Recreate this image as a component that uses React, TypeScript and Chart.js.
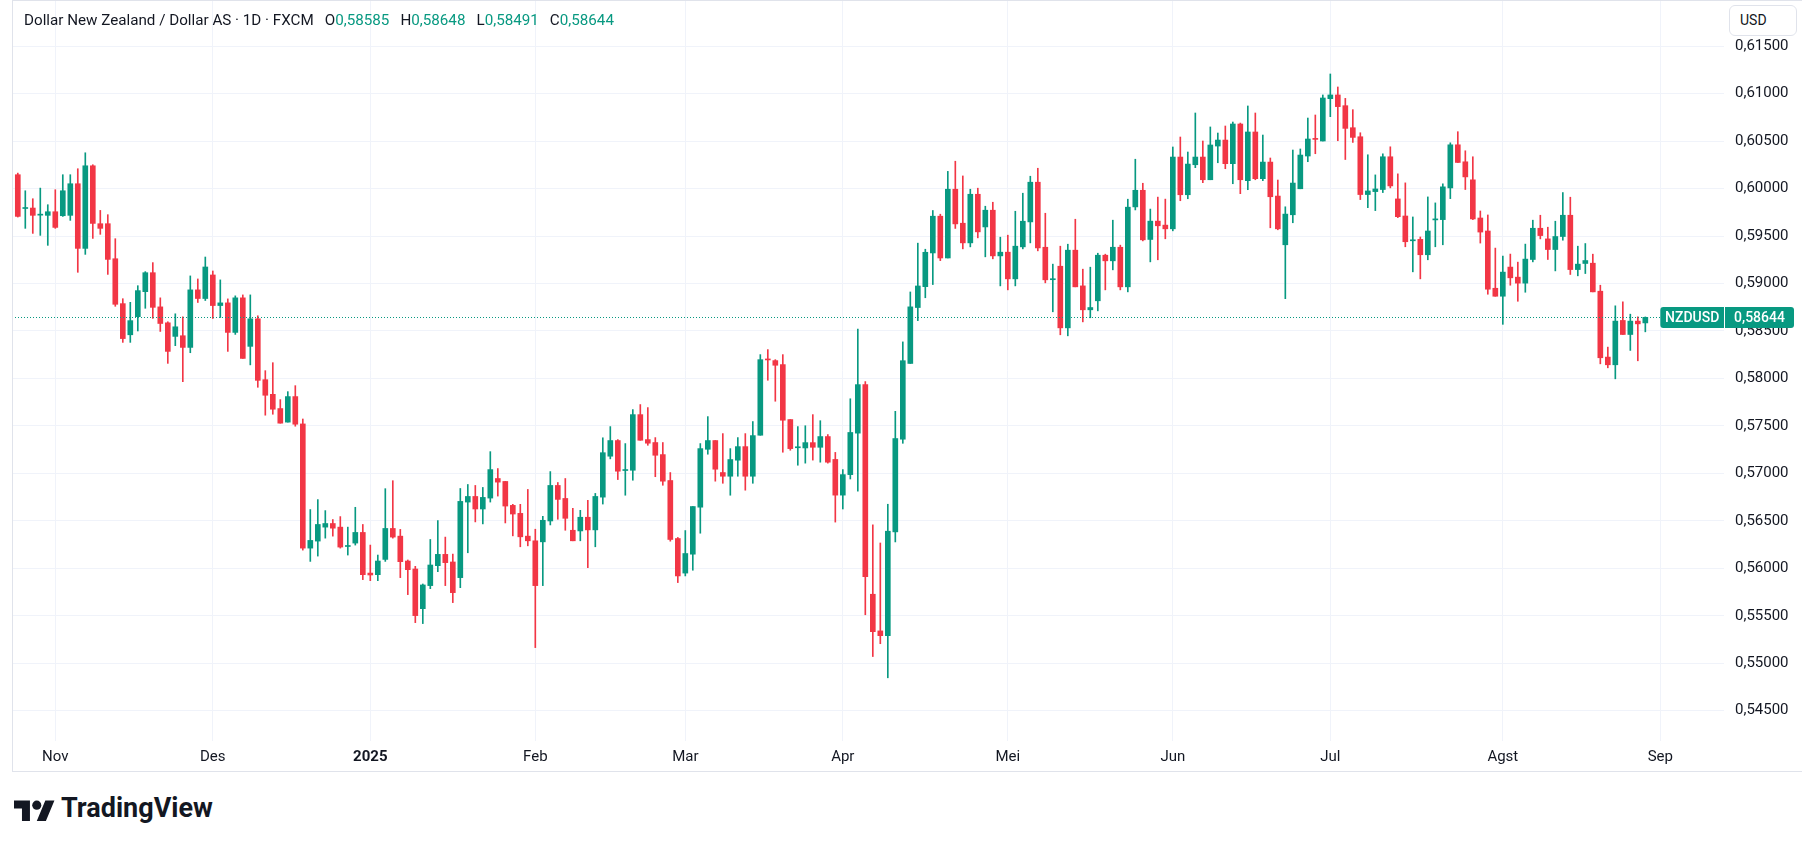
import React, { useEffect, useRef } from 'react';
import { Chart, registerables } from 'chart.js';

Chart.register(...registerables);

// ---- Data (daily candles, NZD/USD FXCM, Oct 25 2024 .. Aug 28 2025) ----
const opens: number[] = [
  0.60146, 0.59790, 0.59795, 0.59720, 0.59718, 0.59756, 0.59714, 0.59718, 0.60051, 0.59370,
  0.60240, 0.59630, 0.59630, 0.59261, 0.58788, 0.58460, 0.58651, 0.58914, 0.59114, 0.58754,
  0.58586, 0.58443, 0.58450, 0.58327, 0.58933, 0.58842, 0.59090, 0.58768, 0.58796, 0.58485,
  0.58849, 0.58338, 0.58628, 0.57987, 0.57833, 0.57683, 0.57540, 0.57809, 0.57521, 0.56213,
  0.56287, 0.56434, 0.56472, 0.56434, 0.56230, 0.56266, 0.56378, 0.55950, 0.55933, 0.56094,
  0.56420, 0.56339, 0.56077, 0.55993, 0.55575, 0.55818, 0.56028, 0.56147, 0.56067, 0.55902,
  0.56698, 0.56757, 0.56625, 0.56740, 0.56946, 0.56915, 0.56663, 0.56579, 0.56339, 0.56290,
  0.56279, 0.56499, 0.56873, 0.56736, 0.56401, 0.56394, 0.56538, 0.56405, 0.56750, 0.57181,
  0.57346, 0.57030, 0.57033, 0.57619, 0.57356, 0.57325, 0.57198, 0.56925, 0.56314, 0.55950,
  0.56149, 0.56644, 0.57254, 0.57346, 0.57009, 0.56970, 0.57139, 0.57282, 0.56970, 0.57402,
  0.58198, 0.58188, 0.58146, 0.57567, 0.57270, 0.57268, 0.57324, 0.57275, 0.57388, 0.57147,
  0.56771, 0.56987, 0.57424, 0.57935, 0.55727, 0.55341, 0.55291, 0.56384, 0.57360, 0.58158,
  0.58747, 0.58967, 0.59322, 0.59709, 0.59269, 0.59993, 0.59635, 0.59428, 0.59940, 0.59596,
  0.59772, 0.59291, 0.59330, 0.59049, 0.59386, 0.59649, 0.60067, 0.59382, 0.59040, 0.59182,
  0.58533, 0.59351, 0.58975, 0.58723, 0.58818, 0.59298, 0.59239, 0.59382, 0.58965, 0.59807,
  0.59982, 0.59464, 0.59657, 0.59615, 0.59576, 0.60332, 0.59935, 0.60251, 0.60332, 0.60093,
  0.60448, 0.60511, 0.60262, 0.60680, 0.60083, 0.60596, 0.60104, 0.60279, 0.59921, 0.59408,
  0.59724, 0.59998, 0.60343, 0.60522, 0.60501, 0.60947, 0.60986, 0.60873, 0.60641, 0.60546,
  0.59937, 0.59968, 0.59990, 0.60335, 0.59891, 0.59711, 0.59450, 0.59465, 0.59303, 0.59670,
  0.59673, 0.60007, 0.60461, 0.60282, 0.60092, 0.59690, 0.59553, 0.58950, 0.58866, 0.59173,
  0.59067, 0.59004, 0.59253, 0.59582, 0.59470, 0.59358, 0.59495, 0.59719, 0.59147, 0.59211,
  0.59214, 0.58919, 0.58225, 0.58144, 0.58611, 0.58463, 0.58604, 0.58585,
];
const highs: number[] = [
  0.60163, 0.59977, 0.59893, 0.60005, 0.59830, 0.59988, 0.60146, 0.60146, 0.60209, 0.60377,
  0.60251, 0.59770, 0.59725, 0.59472, 0.58840, 0.58802, 0.58977, 0.59125, 0.59220, 0.58849,
  0.58597, 0.58681, 0.58649, 0.59080, 0.59048, 0.59279, 0.59132, 0.59038, 0.58838, 0.58870,
  0.58880, 0.58880, 0.58660, 0.58082, 0.58166, 0.57777, 0.57861, 0.57924, 0.57573, 0.56619,
  0.56724, 0.56608, 0.56514, 0.56545, 0.56434, 0.56643, 0.56462, 0.56245, 0.56140, 0.56839,
  0.56923, 0.56410, 0.56088, 0.56021, 0.55835, 0.56304, 0.56503, 0.56329, 0.56150, 0.56841,
  0.56883, 0.56873, 0.56852, 0.57229, 0.57051, 0.56915, 0.56674, 0.56674, 0.56831, 0.56412,
  0.56548, 0.57019, 0.56904, 0.56946, 0.56632, 0.56611, 0.56716, 0.56789, 0.57375, 0.57493,
  0.57356, 0.57314, 0.57672, 0.57725, 0.57693, 0.57377, 0.57325, 0.57009, 0.56325, 0.56398,
  0.56651, 0.57314, 0.57598, 0.57346, 0.57419, 0.57261, 0.57377, 0.57419, 0.57546, 0.58251,
  0.58304, 0.58198, 0.58251, 0.57567, 0.57493, 0.57502, 0.57619, 0.57555, 0.57409, 0.57221,
  0.57040, 0.57786, 0.58520, 0.57967, 0.56458, 0.56267, 0.56675, 0.57654, 0.58385, 0.58911,
  0.59425, 0.59361, 0.59769, 0.59730, 0.60181, 0.60288, 0.60133, 0.59993, 0.60004, 0.59814,
  0.59856, 0.59488, 0.59509, 0.59761, 0.59951, 0.60130, 0.60214, 0.59740, 0.59204, 0.59393,
  0.59414, 0.59677, 0.59151, 0.59172, 0.59319, 0.59309, 0.59667, 0.59404, 0.59888, 0.60309,
  0.60056, 0.59784, 0.59910, 0.59889, 0.60438, 0.60543, 0.60385, 0.60796, 0.60501, 0.60649,
  0.60585, 0.60659, 0.60701, 0.60690, 0.60870, 0.60796, 0.60564, 0.60322, 0.60090, 0.59808,
  0.60406, 0.60417, 0.60743, 0.60775, 0.60986, 0.61207, 0.61070, 0.60950, 0.60831, 0.60588,
  0.60356, 0.60144, 0.60366, 0.60440, 0.60155, 0.60060, 0.59701, 0.59490, 0.59912, 0.59849,
  0.60050, 0.60482, 0.60599, 0.60398, 0.60335, 0.59764, 0.59722, 0.59373, 0.59289, 0.59310,
  0.59225, 0.59415, 0.59667, 0.59719, 0.59593, 0.59656, 0.59958, 0.59909, 0.59393, 0.59421,
  0.59309, 0.58982, 0.58330, 0.58765, 0.58807, 0.58677, 0.58649, 0.58648,
];
const lows: number[] = [
  0.59700, 0.59581, 0.59528, 0.59507, 0.59402, 0.59581, 0.59707, 0.59665, 0.59118, 0.59307,
  0.59475, 0.59518, 0.59096, 0.58760, 0.58380, 0.58380, 0.58500, 0.58739, 0.58633, 0.58495,
  0.58159, 0.58345, 0.57966, 0.58271, 0.58800, 0.58821, 0.58632, 0.58642, 0.58285, 0.58464,
  0.58211, 0.58143, 0.57907, 0.57613, 0.57623, 0.57529, 0.57540, 0.57497, 0.56192, 0.56073,
  0.56129, 0.56318, 0.56339, 0.56213, 0.56140, 0.56245, 0.55881, 0.55870, 0.55870, 0.56073,
  0.56318, 0.55902, 0.55723, 0.55428, 0.55418, 0.55786, 0.55965, 0.55818, 0.55639, 0.55796,
  0.56164, 0.56489, 0.56468, 0.56698, 0.56761, 0.56478, 0.56342, 0.56227, 0.56237, 0.55165,
  0.55818, 0.56457, 0.56517, 0.56401, 0.56290, 0.56290, 0.56007, 0.56227, 0.56677, 0.57153,
  0.56935, 0.56770, 0.56928, 0.57349, 0.57296, 0.56965, 0.56875, 0.56286, 0.55850, 0.55920,
  0.55980, 0.56370, 0.57202, 0.56918, 0.56896, 0.56770, 0.56970, 0.56823, 0.56896, 0.57402,
  0.57981, 0.57760, 0.57223, 0.57244, 0.57086, 0.57108, 0.57140, 0.57118, 0.57108, 0.56487,
  0.56625, 0.56941, 0.56813, 0.55511, 0.55071, 0.55206, 0.54847, 0.56278, 0.57317, 0.58158,
  0.58609, 0.58850, 0.58989, 0.59241, 0.59269, 0.59580, 0.59365, 0.59386, 0.59481, 0.59281,
  0.59260, 0.58975, 0.58933, 0.58975, 0.59365, 0.59428, 0.59344, 0.59007, 0.58702, 0.58460,
  0.58449, 0.58965, 0.58596, 0.58639, 0.58712, 0.58933, 0.59144, 0.58933, 0.58912, 0.59775,
  0.59449, 0.59228, 0.59250, 0.59471, 0.59555, 0.59872, 0.59893, 0.60220, 0.60062, 0.60093,
  0.60272, 0.60209, 0.60051, 0.59946, 0.59988, 0.60093, 0.60083, 0.59587, 0.59566, 0.58840,
  0.59640, 0.59998, 0.60283, 0.60367, 0.60501, 0.60757, 0.60504, 0.60306, 0.60486, 0.59884,
  0.59799, 0.59768, 0.59958, 0.60007, 0.59694, 0.59387, 0.59123, 0.59049, 0.59250, 0.59387,
  0.59408, 0.59894, 0.60275, 0.59990, 0.59673, 0.59426, 0.58887, 0.58866, 0.58570, 0.58982,
  0.58813, 0.58908, 0.59228, 0.59470, 0.59253, 0.59133, 0.59456, 0.59095, 0.59081, 0.59105,
  0.58912, 0.58154, 0.58112, 0.57996, 0.58463, 0.58295, 0.58186, 0.58491,
];
const closes: number[] = [
  0.59707, 0.59800, 0.59718, 0.59730, 0.59756, 0.59591, 0.59977, 0.60051, 0.59370, 0.60240,
  0.59633, 0.59581, 0.59254, 0.58781, 0.58420, 0.58609, 0.58925, 0.59114, 0.58749, 0.58579,
  0.58285, 0.58544, 0.58327, 0.58933, 0.58842, 0.59174, 0.58768, 0.58796, 0.58485, 0.58849,
  0.58211, 0.58628, 0.57980, 0.57823, 0.57676, 0.57529, 0.57809, 0.57518, 0.56213, 0.56294,
  0.56462, 0.56472, 0.56423, 0.56224, 0.56240, 0.56378, 0.55933, 0.55930, 0.56077, 0.56420,
  0.56329, 0.56070, 0.55986, 0.55502, 0.55825, 0.56035, 0.56147, 0.56060, 0.55744, 0.56705,
  0.56757, 0.56625, 0.56747, 0.57040, 0.56908, 0.56656, 0.56572, 0.56332, 0.56290, 0.55818,
  0.56506, 0.56873, 0.56726, 0.56527, 0.56290, 0.56538, 0.56405, 0.56757, 0.57218, 0.57346,
  0.57023, 0.57040, 0.57619, 0.57349, 0.57318, 0.57191, 0.56918, 0.56304, 0.55920, 0.56156,
  0.56651, 0.57261, 0.57346, 0.57044, 0.56970, 0.57146, 0.57282, 0.56970, 0.57398, 0.58198,
  0.58195, 0.58139, 0.57560, 0.57261, 0.57280, 0.57324, 0.57275, 0.57388, 0.57118, 0.56771,
  0.56987, 0.57431, 0.57935, 0.55912, 0.55333, 0.55291, 0.56391, 0.57367, 0.58187, 0.58754,
  0.58974, 0.59329, 0.59709, 0.59269, 0.59993, 0.59628, 0.59428, 0.59940, 0.59544, 0.59772,
  0.59291, 0.59330, 0.59049, 0.59393, 0.59656, 0.60067, 0.59375, 0.59039, 0.59050, 0.58533,
  0.59351, 0.58965, 0.58723, 0.58747, 0.59298, 0.59239, 0.59382, 0.58965, 0.59804, 0.59982,
  0.59460, 0.59657, 0.59608, 0.59576, 0.60332, 0.59935, 0.60258, 0.60332, 0.60093, 0.60459,
  0.60511, 0.60262, 0.60680, 0.60093, 0.60596, 0.60104, 0.60279, 0.59914, 0.59576, 0.59731,
  0.60058, 0.60353, 0.60522, 0.60518, 0.60954, 0.60986, 0.60863, 0.60634, 0.60539, 0.59937,
  0.59975, 0.59996, 0.60335, 0.60028, 0.59704, 0.59440, 0.59458, 0.59303, 0.59553, 0.59680,
  0.60018, 0.60461, 0.60275, 0.60123, 0.59680, 0.59542, 0.58940, 0.58866, 0.59120, 0.59060,
  0.59004, 0.59257, 0.59582, 0.59505, 0.59358, 0.59495, 0.59719, 0.59147, 0.59204, 0.59242,
  0.58912, 0.58218, 0.58144, 0.58604, 0.58463, 0.58604, 0.58575, 0.58644,
];

// Time axis: bar index of the first trading day of each month
const monthTickIdx: number[] = [5, 26, 47, 69, 89, 110, 132, 154, 175, 198, 219];
const monthTickLabels: string[] = ['Nov', 'Des', '2025', 'Feb', 'Mar', 'Apr', 'Mei', 'Jun', 'Jul', 'Agst', 'Sep'];
// Price axis ticks
const priceTicks: number[] = [0.545, 0.55, 0.555, 0.56, 0.565, 0.57, 0.575, 0.58, 0.585, 0.59, 0.595, 0.6, 0.605, 0.61, 0.615];

const symbolName = 'NZDUSD';
const titleText = 'Dollar New Zealand / Dollar AS · 1D · FXCM';
const legendO = '0,58585';
const legendH = '0,58648';
const legendL = '0,58491';
const legendC = '0,58644';

const UP = '#089981';
const DOWN = '#f23645';
const TEXT = '#131722';
const GRID = '#f0f3fa';
const FONT = 'Roboto, "Noto Sans", sans-serif';

const fmt = (v: number) => v.toFixed(5).replace('.', ',');

export default function App() {
  const canvasRef = useRef<HTMLCanvasElement | null>(null);

  useEffect(() => {
    const canvas = canvasRef.current;
    if (!canvas) return;
    const colors = opens.map((o, i) => (closes[i] >= o ? UP : DOWN));
    const last = closes.length - 1;

    const lastPricePlugin = {
      id: 'lastPrice',
      afterDraw(chart: any) {
        const { ctx, chartArea, scales } = chart;
        const y = scales.y.getPixelForValue(closes[last]);
        const yy = Math.round(y) + 0.5;
        const labelLeft = scales.x.getPixelForValue(monthTickIdx[monthTickIdx.length - 1]);
        ctx.save();
        ctx.strokeStyle = UP;
        ctx.lineWidth = 1;
        ctx.setLineDash([1, 2]);
        ctx.beginPath();
        ctx.moveTo(chartArea.left, yy);
        ctx.lineTo(labelLeft, yy);
        ctx.stroke();
        ctx.setLineDash([]);
        const h = 21;
        const top = Math.round(y - h / 2);
        ctx.fillStyle = UP;
        ctx.beginPath();
        (ctx as any).roundRect(labelLeft, top, chartArea.right - labelLeft, h, [3, 0, 0, 3]);
        ctx.fill();
        ctx.beginPath();
        (ctx as any).roundRect(chartArea.right + 1, top, 69, h, [0, 3, 3, 0]);
        ctx.fill();
        ctx.fillStyle = '#ffffff';
        ctx.font = `500 14px ${FONT}`;
        ctx.textBaseline = 'middle';
        ctx.textAlign = 'center';
        ctx.fillText(symbolName, (labelLeft + chartArea.right) / 2, top + h / 2 + 0.5);
        ctx.fillText(fmt(closes[last]), chartArea.right + 1 + 34.5, top + h / 2 + 0.5);
        ctx.restore();
      },
    };

    const chart = new Chart(canvas, {
      type: 'bar',
      data: {
        datasets: [
          {
            label: 'wick',
            data: lows.map((l, i) => ({ x: i, y: [l, highs[i]] })) as any,
            backgroundColor: colors,
            barThickness: 1,
            grouped: false,
            order: 2,
          } as any,
          {
            label: 'body',
            data: opens.map((o, i) => ({ x: i, y: [o, closes[i]] })) as any,
            backgroundColor: colors,
            barThickness: 5,
            minBarLength: 1,
            grouped: false,
            order: 1,
          } as any,
        ],
      },
      options: {
        responsive: false,
        animation: false,
        events: [],
        layout: { padding: { left: 12, top: 0, right: 0, bottom: 0 }, autoPadding: false } as any,
        plugins: { legend: { display: false }, tooltip: { enabled: false } },
        scales: {
          x: {
            type: 'linear',
            min: -0.773,
            max: 227.49,
            offset: false,
            grid: { color: GRID, drawTicks: false, lineWidth: 1, offset: false },
            border: { display: false },
            afterBuildTicks: (scale: any) => {
              scale.ticks = monthTickIdx.map((v) => ({ value: v }));
            },
            afterFit: (scale: any) => {
              scale.height = 31;
              scale.paddingLeft = 0;
              scale.paddingRight = 0;
            },
            ticks: {
              autoSkip: false,
              maxRotation: 0,
              padding: 7,
              color: TEXT,
              font: (ctx: any) => ({
                family: FONT,
                size: 15,
                weight: ctx.tick && ctx.tick.label === '2025' ? 'bold' : 'normal',
              }),
              callback: (value: any) => {
                const k = monthTickIdx.indexOf(Number(value));
                return k >= 0 ? monthTickLabels[k] : '';
              },
            },
          },
          y: {
            type: 'linear',
            position: 'right',
            min: 0.541813,
            max: 0.619862,
            grid: { color: GRID, drawTicks: false, lineWidth: 1 },
            border: { display: false },
            afterBuildTicks: (scale: any) => {
              scale.ticks = priceTicks.map((v) => ({ value: v }));
            },
            afterFit: (scale: any) => {
              scale.width = 78;
              scale.paddingTop = 0;
              scale.paddingBottom = 0;
            },
            ticks: {
              padding: 11,
              color: TEXT,
              font: { family: FONT, size: 15 },
              callback: (value: any) => fmt(Number(value)),
            },
          },
        },
      } as any,
      plugins: [lastPricePlugin],
    });
    return () => chart.destroy();
  }, []);

  const legendVal: React.CSSProperties = { color: UP };
  const grp: React.CSSProperties = { marginLeft: 11 };

  return (
    <div style={{ position: 'fixed', left: 0, top: 0, width: 1802, height: 848, background: '#ffffff', overflow: 'hidden', fontFamily: FONT }}>
      <canvas ref={canvasRef} width={1802} height={772} style={{ position: 'absolute', left: 0, top: 0, width: 1802, height: 772 }} />
      <div style={{ position: 'absolute', left: 12, top: 0, width: 1790, height: 772, border: '1px solid #e0e3eb', borderRight: 'none', boxSizing: 'border-box', pointerEvents: 'none' }} />
      <div style={{ position: 'absolute', left: 24, top: 10, height: 20, lineHeight: '20px', fontSize: 15.2, color: TEXT, whiteSpace: 'nowrap' }}>
        <span>{titleText}</span>
        <span style={grp}>O<span style={legendVal}>{legendO}</span></span>
        <span style={grp}>H<span style={legendVal}>{legendH}</span></span>
        <span style={grp}>L<span style={legendVal}>{legendL}</span></span>
        <span style={grp}>C<span style={legendVal}>{legendC}</span></span>
      </div>
      <div style={{ position: 'absolute', left: 1729, top: 5, width: 68, height: 31, boxSizing: 'border-box', border: '1px solid #e0e3eb', borderRadius: 6, background: '#ffffff', fontSize: 14, color: TEXT, lineHeight: '29px', paddingLeft: 10 }}>
        USD
      </div>
      <svg style={{ position: 'absolute', left: 14, top: 796 }} width={41} height={32} viewBox="0 0 36 28">
        <path d="M14 22H7V11H0V4h14v18zM28 22h-8l7.5-18h8L28 22z" fill={TEXT} />
        <circle cx={20} cy={8} r={4} fill={TEXT} />
      </svg>
      <div style={{ position: 'absolute', left: 61, top: 795, fontSize: 27, lineHeight: '27px', fontWeight: 700, color: TEXT, whiteSpace: 'nowrap' }}>
        TradingView
      </div>
    </div>
  );
}
